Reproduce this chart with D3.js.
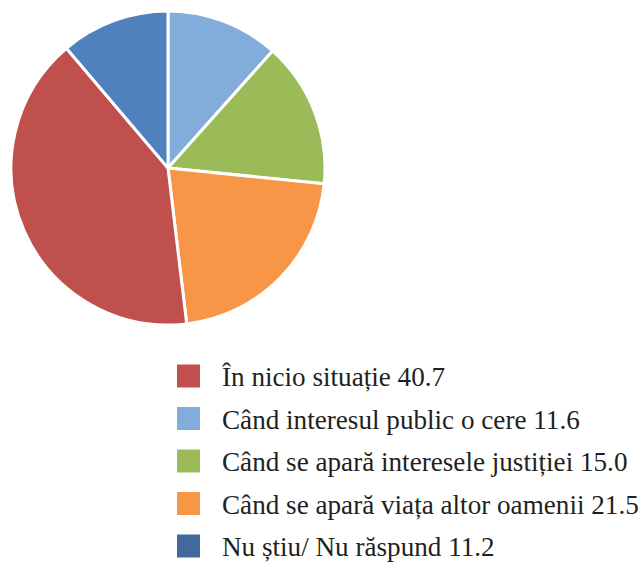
<!DOCTYPE html>
<html>
<head>
<meta charset="utf-8">
<script src="https://cdn.jsdelivr.net/npm/d3@7.9.0/dist/d3.min.js"></script>
</head>
<body style="margin:0;background:#fff">
<svg id="chart" width="644" height="563"></svg>
<script>
// legend order
const labels = ['În nicio situație', 'Când interesul public o cere', 'Când se apară interesele justiției',
  'Când se apară viața altor oamenii', 'Nu știu/ Nu răspund'];
const values = [40.7, 11.6, 15.0, 21.5, 11.2];
const sliceColors = ['#c0504d', '#82acd9', '#9bbb59', '#f79646', '#4f81bd'];
const swatchColors = ['#c0504d', '#82acd9', '#9bbb59', '#f79646', '#416a9b'];
// order the slices go round the pie, clockwise from 12 o'clock
const pieOrder = [1, 2, 3, 0, 4];

const svg = d3.select('#chart');

const pie = d3.pie().sort(null).value(i => values[i]);
const arc = d3.arc().innerRadius(0).outerRadius(157);

const g = svg.append('g').attr('transform', 'translate(168,168)');
g.selectAll('path')
  .data(pie(pieOrder))
  .join('path')
  .attr('d', arc)
  .attr('fill', d => sliceColors[d.data])
  .attr('stroke', '#fff')
  .attr('stroke-width', 3)
  .attr('stroke-linejoin', 'round');

// legend
const y = d3.scaleLinear().domain([0, labels.length - 1]).range([376, 546]);
const rows = svg.append('g').selectAll('g')
  .data(labels)
  .join('g')
  .attr('transform', (d, i) => `translate(177,${y(i)})`);

rows.append('rect')
  .attr('x', 0).attr('y', -11.5)
  .attr('width', 23).attr('height', 23)
  .attr('fill', (d, i) => swatchColors[i]);

const texts = rows.append('text')
  .attr('x', 45).attr('y', 10)
  .attr('font-family', 'Liberation Serif')
  .attr('font-size', 30)
  .attr('fill', '#231f20')
  .text((d, i) => `${d} ${values[i].toFixed(1)}`);

// shrink the font so the longest line ends where the reference's does
const widest = d3.max(texts.nodes(), n => n.getComputedTextLength());
texts.attr('font-size', Math.min(30, 30 * 417 / widest));
</script>
</body>
</html>
